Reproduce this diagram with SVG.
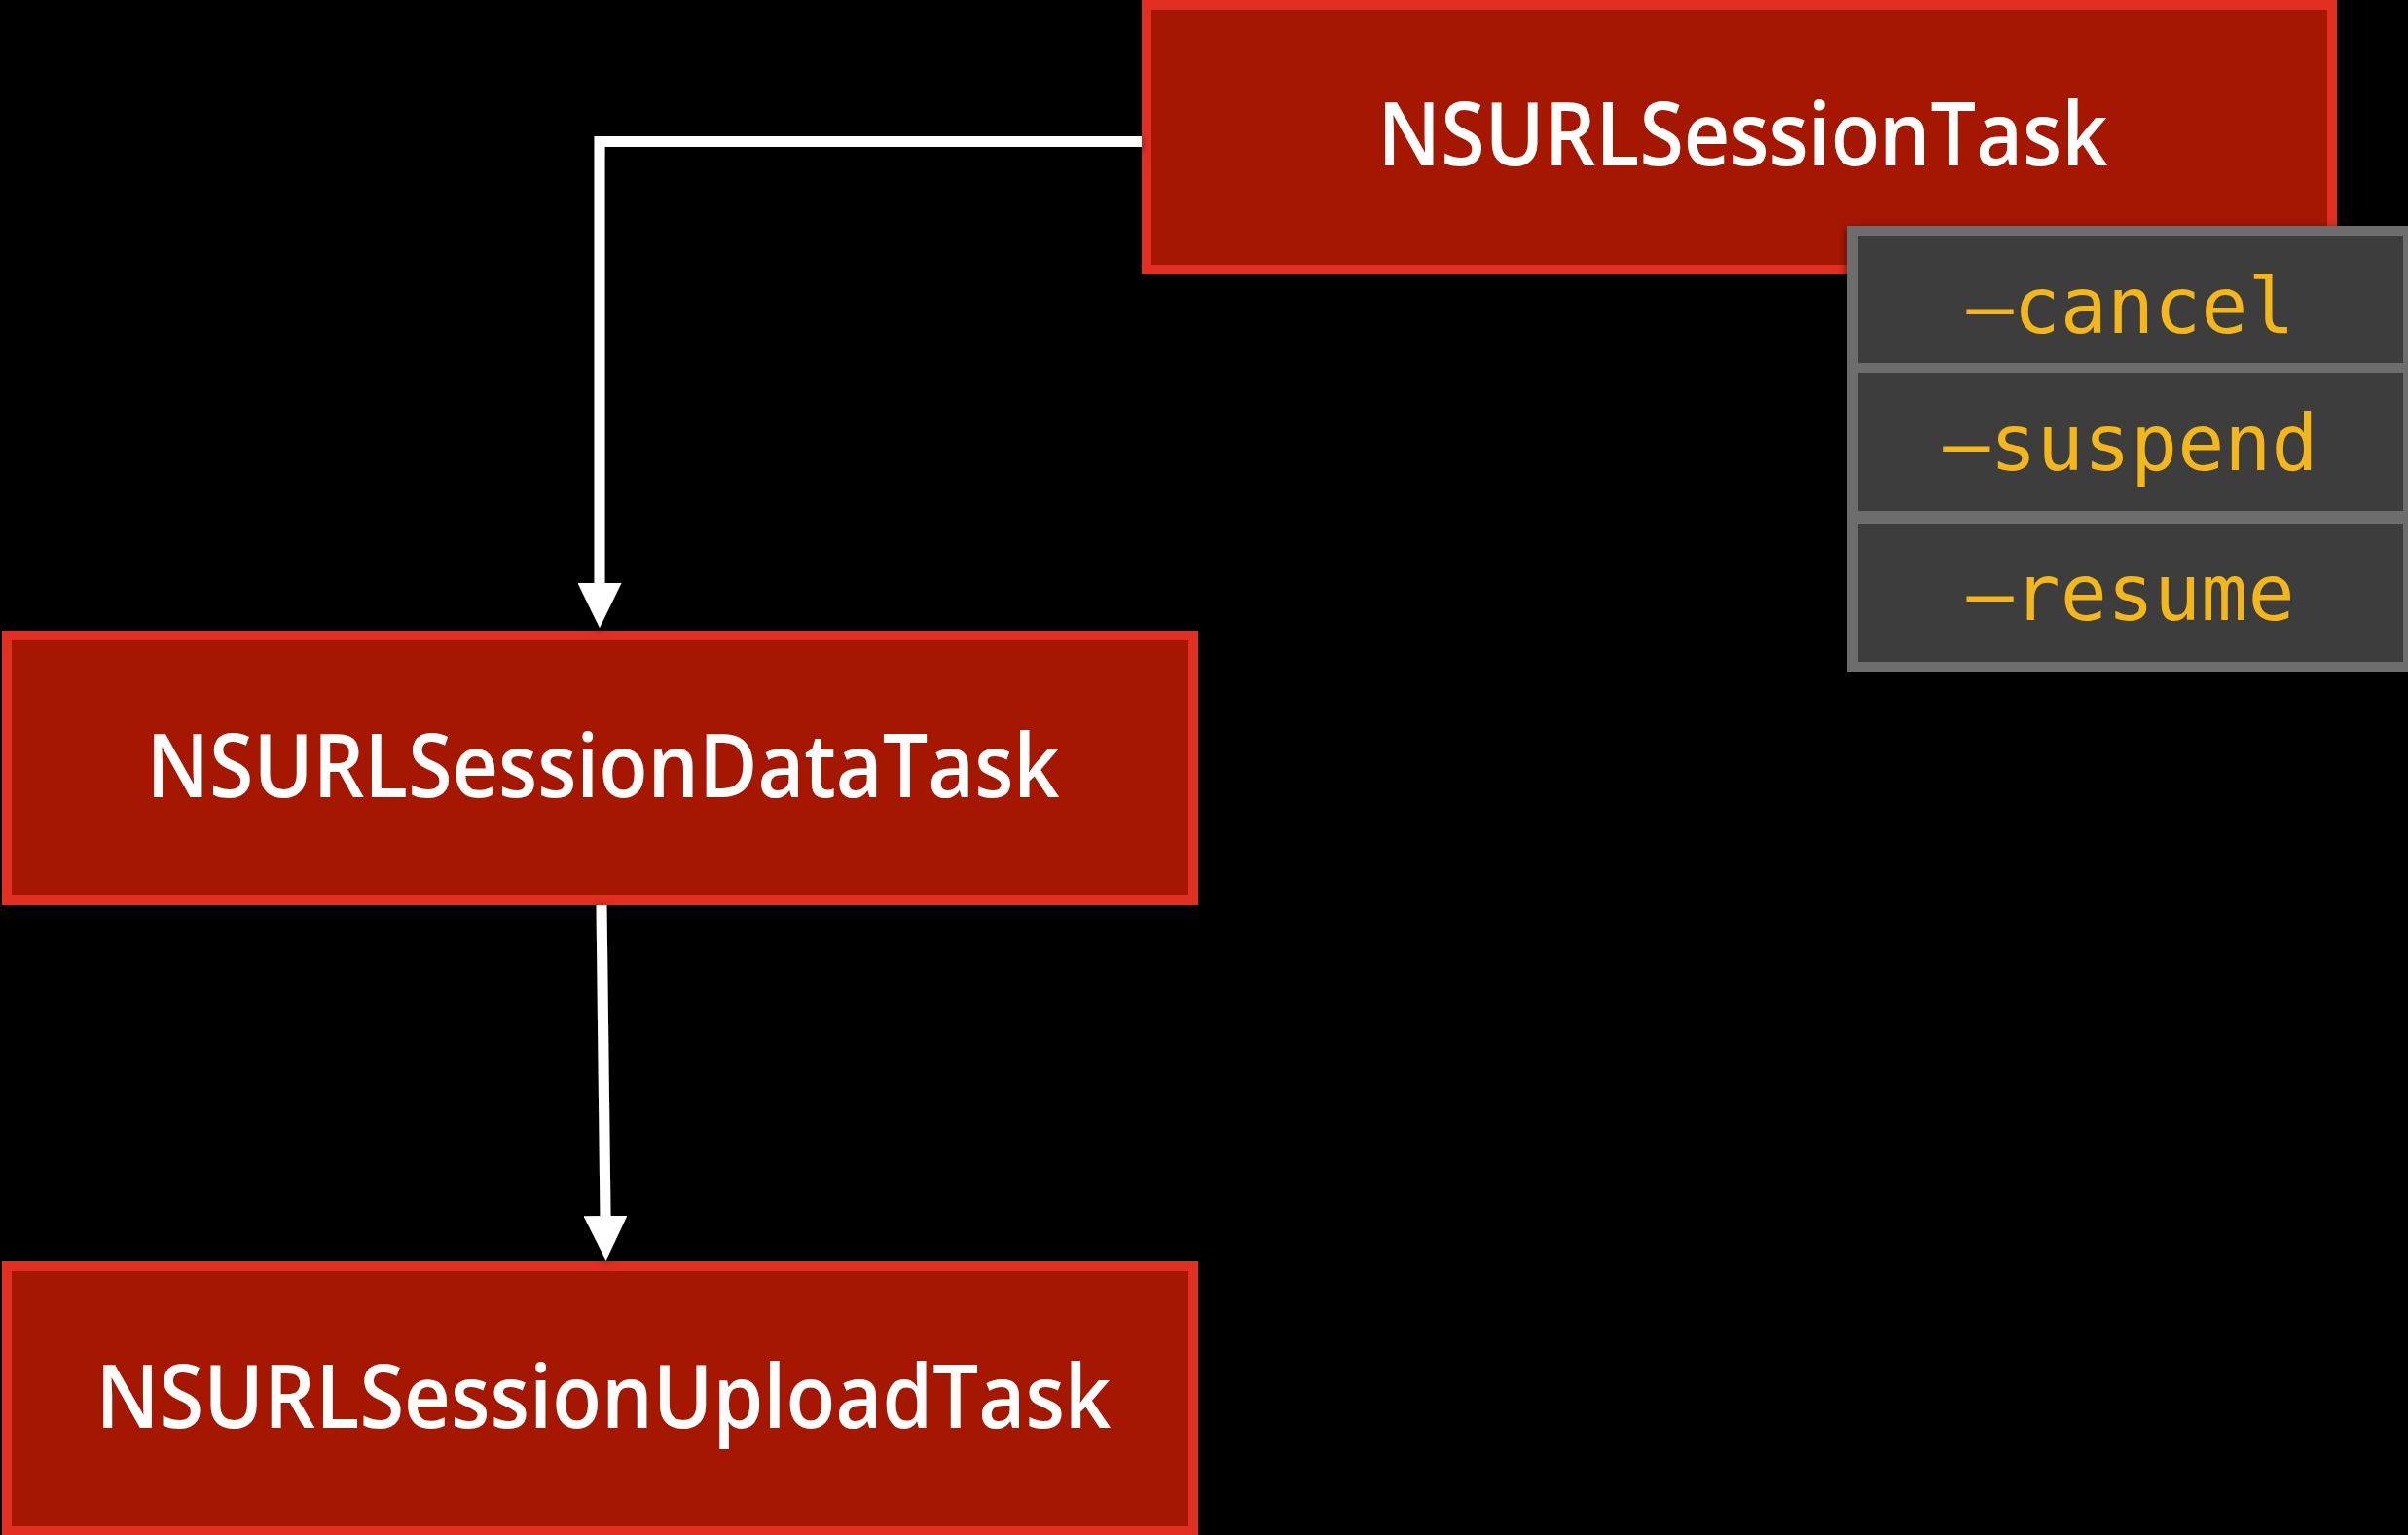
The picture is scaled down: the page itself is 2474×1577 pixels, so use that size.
<svg xmlns="http://www.w3.org/2000/svg" width="2474" height="1577" viewBox="0 0 2474 1577">
  <style>
    .box { fill: #A61702; stroke: #E32E22; stroke-width: 10; }
    .title { font-family: "Open Sans", "Liberation Sans", sans-serif; font-size: 91px; font-weight: 600; fill: #FFFFFF; text-anchor: middle; }
    .panel { fill: #6D6D6D; }
    .cell { fill: #3C3C3C; }
    .method { font-family: "DejaVu Sans Mono", "Liberation Mono", monospace; font-size: 80px; fill: #F3B71B; text-anchor: middle; }
    .conn { fill: none; stroke: #FFFFFF; stroke-width: 11; stroke-linejoin: miter; marker-end: url(#arrow); }
  </style>
  <defs>
    <marker id="arrow" viewBox="0 0 46 45" refX="0" refY="22.5" markerWidth="46" markerHeight="45" markerUnits="userSpaceOnUse" orient="auto">
      <path d="M0,0 L46,22.5 L0,45 Z" fill="#FFFFFF"/>
    </marker>
    <filter id="shadow" x="-20%" y="-20%" width="140%" height="140%">
      <feDropShadow dx="0" dy="3" stdDeviation="5" flood-color="#000000" flood-opacity="0.6"/>
    </filter>
  </defs>
  <rect x="0" y="0" width="2474" height="1577" fill="#000000"/>

  <g id="node-task">
    <rect class="box" x="1178" y="5" width="1218" height="272"/>
    <text class="title" x="1790.5" y="170" textLength="750" lengthAdjust="spacingAndGlyphs">NSURLSessionTask</text>
  </g>

  <g id="node-datatask">
    <rect class="box" x="7" y="653" width="1219" height="272"/>
    <text class="title" x="619.5" y="819" textLength="938" lengthAdjust="spacingAndGlyphs">NSURLSessionDataTask</text>
  </g>

  <g id="node-uploadtask">
    <rect class="box" x="7" y="1301" width="1219" height="272"/>
    <text class="title" x="620" y="1467" textLength="1043" lengthAdjust="spacingAndGlyphs">NSURLSessionUploadTask</text>
  </g>

  <g id="node-methods" filter="url(#shadow)">
    <rect class="panel" x="1898" y="232" width="582" height="458"/>
    <g id="method-cancel">
      <rect class="cell" x="1909" y="242" width="560" height="131"/>
      <text class="method" x="2189" y="342">–cancel</text>
    </g>
    <g id="method-suspend">
      <rect class="cell" x="1909" y="383" width="560" height="142"/>
      <text class="method" x="2189" y="483">–suspend</text>
    </g>
    <g id="method-resume">
      <rect class="cell" x="1909" y="538" width="560" height="142"/>
      <text class="method" x="2189" y="637">–resume</text>
    </g>
  </g>

  <g id="connectors" filter="url(#shadow)">
    <path class="conn" d="M1173,145.5 H616 V599"/>
    <path class="conn" d="M618,930 L622,1249"/>
  </g>
</svg>
